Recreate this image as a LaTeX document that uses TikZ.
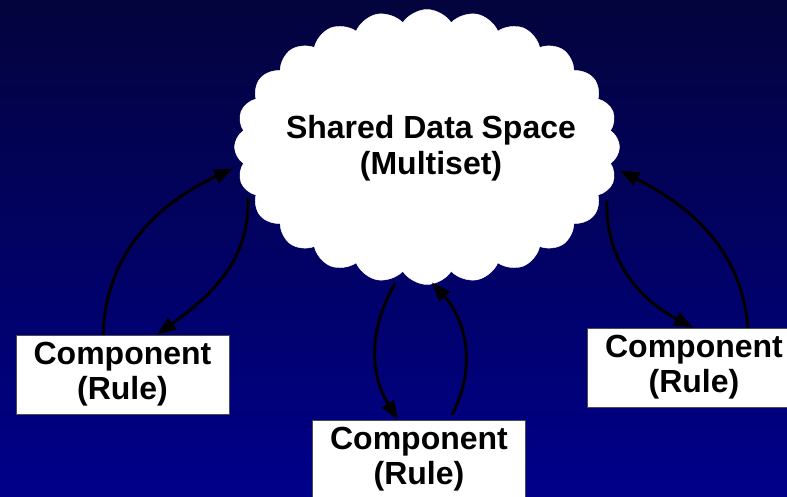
\documentclass[tikz,border=0pt]{standalone}
\usepackage{fontspec}
\setmainfont{Liberation Sans}
\definecolor{bgtop}{HTML}{03033D}
\definecolor{bgbot}{HTML}{00008A}
\usetikzlibrary{arrows.meta,positioning,shapes.symbols}

\begin{document}
\begin{tikzpicture}[x=1pt,y=1pt,
    compbox/.style={draw=gray!60!black,line width=0.6pt,fill=white,minimum width=213pt,minimum height=79pt,
      align=center,font=\fontsize{32}{35}\selectfont\bfseries,inner sep=0pt},
    flow/.style={line width=3pt,-{Triangle[length=19pt,width=14pt]}}]
  % background
  \shade[top color=bgtop,bottom color=bgbot] (0,0) rectangle (787,496);
  \useasboundingbox (0,0) rectangle (787,496);
  % shared data space
  \node[cloud,cloud puffs=24,cloud puff arc=115,aspect=1.4,fill=white,draw=white,inner sep=0pt,
    minimum width=385pt,minimum height=275pt] (sds) at (427,349) {};
  \node[align=center,font=\fontsize{32}{36}\selectfont\bfseries] (sdslabel) at (431,348) {Shared Data Space\\(Multiset)};
  % components
  \node[compbox] (left) at (122.5,121.5) {Component\\(Rule)};
  \node[compbox] (mid) at (419,36.5) {Component\\(Rule)};
  \node[compbox] (right) at (694,128.5) {Component\\(Rule)};
  % left pair
  \draw[flow] ([xshift=-19.5pt]left.north) to[out=88,in=205] ([shift={(-194,-21.5)}]sds.center);
  \draw[flow] ([shift={(-179,-50.5)}]sds.center) to[out=-88,in=36] ([xshift=34.5pt]left.north);
  % middle pair
  \draw[flow] ([shift={(-32,-136.5)}]sds.center) to[out=240,in=122] ([xshift=-21pt]mid.north);
  \draw[flow] ([xshift=33pt,yshift=5pt]mid.north) to[out=62,in=-48] ([shift={(5,-135.5)}]sds.center);
  % right pair
  \draw[flow] ([shift={(180,-53.5)}]sds.center) to[out=-92,in=152] ([xshift=-1pt]right.north);
  \draw[flow] ([xshift=54pt]right.north) to[out=95,in=-27] ([shift={(193,-23.5)}]sds.center);
\end{tikzpicture}
\end{document}
